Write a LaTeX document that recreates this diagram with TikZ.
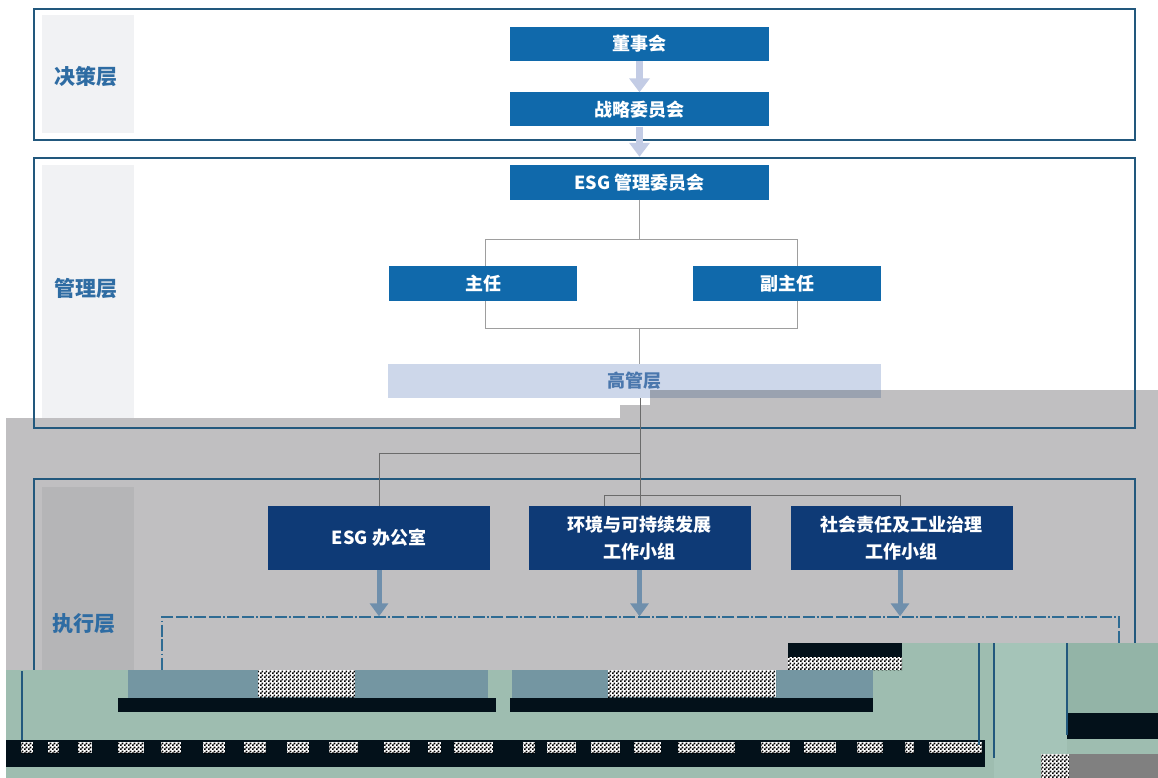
\documentclass[tikz,border=0pt]{standalone}
\usepackage{fontspec}
\setmainfont{Noto Sans CJK SC}
\usetikzlibrary{arrows.meta,patterns}
\pgfdeclarepatternformonly{finecheck}{\pgfpointorigin}{\pgfqpoint{4pt}{4pt}}{\pgfqpoint{4pt}{4pt}}{%
  \pgfpathrectangle{\pgfpointorigin}{\pgfqpoint{2pt}{2pt}}%
  \pgfpathrectangle{\pgfqpoint{2pt}{2pt}}{\pgfqpoint{2pt}{2pt}}%
  \pgfusepath{fill}}
\definecolor{boxblue}{HTML}{1069AB}
\definecolor{navybox}{HTML}{0E3A76}
\definecolor{layerline}{HTML}{22587D}
\definecolor{panelw}{HTML}{F1F2F4}
\definecolor{panelg}{HTML}{B5B5B7}
\definecolor{labelblue}{HTML}{2E6CA3}
\definecolor{lavender}{HTML}{C3CCE5}
\definecolor{steelarr}{HTML}{6F8FAC}
\definecolor{overlaygray}{HTML}{C0BFC1}
\definecolor{gkbox}{HTML}{CDD7EA}
\definecolor{gkdark}{HTML}{9AA2B0}
\definecolor{gktext}{HTML}{4A77AD}
\definecolor{tealg}{HTML}{9EBDB0}
\definecolor{tealr}{HTML}{93B4A7}
\definecolor{teall}{HTML}{A5C4B8}
\definecolor{steelbox}{HTML}{7496A2}
\definecolor{glitchblack}{HTML}{03111A}
\definecolor{dashcol}{HTML}{2E6B93}
\tikzset{
  layerbox/.style={draw=layerline, line width=1.5pt, inner sep=0pt},
  panelbox/.style={fill=#1, inner sep=0pt},
  layerlabel/.style={text=labelblue, font=\fontsize{21}{24}\selectfont\bfseries},
  bluebox/.style={fill=boxblue, text=white, font=\fontsize{18}{22}\selectfont\bfseries, inner sep=0pt, minimum height=34pt},
  navyb/.style={fill=navybox, text=white, font=\fontsize{18}{27}\selectfont\bfseries, inner sep=0pt, minimum width=222pt, minimum height=64pt, align=center},
  gkstyle/.style={fill=gkbox, text=gktext, font=\fontsize{18}{22}\selectfont\bfseries, inner sep=0pt, minimum width=493pt, minimum height=34pt},
  connw/.style={draw=black!38, line width=0.8pt},
  conng/.style={draw=black!58, line width=0.8pt},
  lavarrow/.style={draw=lavender, line width=7pt, -{Triangle[width=20pt,length=14pt]}},
  steelarrow/.style={draw=steelarr, line width=5pt, -{Triangle[width=18pt,length=13pt]}},
  dashbox/.style={draw=dashcol, line width=1.3pt, dash pattern=on 12pt off 2.5pt on 1.5pt off 2.5pt on 12pt off 2.5pt, inner sep=0pt},
  checker/.style={preaction={fill=white}, pattern=finecheck, pattern color=black}
}
\begin{document}
\begin{tikzpicture}[x=1pt,y=-1pt]
\useasboundingbox (0,0) rectangle (1158,778);
\fill[white] (0,0) rectangle (1158,778);

% label panels (white area)
\node[panelbox=panelw, minimum width=92pt, minimum height=118pt] (P1) at (88,74) {};
\node[panelbox=panelw, minimum width=92pt, minimum height=255pt] (P2) at (88,292.5) {};
\node[layerlabel] (T1) at (86,77) {决策层};
\node[layerlabel] (T2) at (86,289) {管理层};

% gray overlay
\fill[overlaygray] (6,418) -- (620,418) -- (620,405) -- (650,405) -- (650,390) -- (1158,390) -- (1158,778) -- (6,778) -- cycle;

% execution panel
\node[panelbox=panelg, minimum width=92pt, minimum height=300pt] (P3) at (88,637) {};
\node[layerlabel] (T3) at (84,624) {执行层};

% layer frames
\node[layerbox, minimum width=1101pt, minimum height=131pt] (L1) at (584.5,74.5) {};
\node[layerbox, minimum width=1101pt, minimum height=270pt] (L2) at (584.5,293) {};
\node[layerbox, minimum width=1101pt, minimum height=321pt] (L3) at (584.5,639.5) {};

% management connectors
\coordinate (mA) at (485,239);
\coordinate (mB) at (797,239);
\coordinate (mC) at (485,328);
\coordinate (mD) at (797,328);
\coordinate (mT) at (639.5,239);
\coordinate (mM) at (639.5,328);
\draw[connw] (mA) -- (mB) -- (mD) -- (mC) -- cycle;

% boxes
\node[bluebox, minimum width=259pt] (dsh) at (639.5,44) {董事会};
\node[bluebox, minimum width=259pt] (zl) at (639.5,109.5) {战略委员会};
\node[bluebox, minimum width=259pt] (esg) at (639.5,182.5) {ESG 管理委员会};
\node[bluebox, minimum width=188pt, minimum height=35pt] (zr) at (483,283.5) {主任};
\node[bluebox, minimum width=188pt, minimum height=35pt] (fzr) at (787,283.5) {副主任};
\node[gkstyle] (gk) at (634.5,381) {};
\fill[gkdark] (650,390) rectangle (881,398);
\node[text=gktext, font=\fontsize{18}{22}\selectfont\bfseries] (gkt) at (gk.center) {高管层};

\draw[connw] (esg.south) -- (mT);
\draw[connw] (mM) -- (mM |- gk.north);

% execution boxes
\node[navyb] (e1) at (379,538) {ESG 办公室};
\node[navyb] (e2) at (639.5,538) {环境与可持续发展\\工作小组};
\node[navyb] (e3) at (901.5,538) {社会责任及工业治理\\工作小组};

\coordinate (eA) at (640,453);
\coordinate (eB) at (604,495);
\coordinate (eC) at (900,495);
\draw[conng] (gk.south -| eA) -- (eA |- e2.north);
\draw[conng] (eA) -| (e1.north);
\draw[conng] (eB |- e2.north) -- (eB) -- (eC) -- (eC |- e3.north);

% arrows
\draw[lavarrow] (dsh.south) -- (zl.north);
\draw[lavarrow, shorten >=8.5pt] (zl.south) -- (esg.north);

\node[dashbox, minimum width=957pt, minimum height=143pt] (db) at (640.5,688.5) {};
\draw[steelarrow] (e1.south) -- (e1.south |- db.north);
\draw[steelarrow] (e2.south) -- (e2.south |- db.north);
\draw[steelarrow] ([xshift=-1.5pt]e3.south) -- ([xshift=-1.5pt]e3.south |- db.north);

% ---- corrupted lower band of the reference ----
\fill[tealg] (6,670) rectangle (1158,778);
\fill[tealg] (788,643) rectangle (1158,670);
\fill[teall] (994,643) rectangle (1067,778);
\fill[tealr] (1067,643) rectangle (1158,713);
\fill[glitchblack] (1067,713) rectangle (1158,739);
\fill[black!50] (1069,754) rectangle (1158,778);
\fill[checker] (1041,754) rectangle (1069,778);
\fill[glitchblack] (788,643) rectangle (902,657);
\fill[checker] (788,657) rectangle (902,670);
\fill[steelbox] (128,670) rectangle (488,698);
\fill[steelbox] (512,670) rectangle (873,698);
\fill[checker] (258,670) rectangle (355,697);
\fill[checker] (608,670) rectangle (776,697);
\fill[glitchblack] (118,698) rectangle (496,712);
\fill[glitchblack] (510,698) rectangle (873,712);
\fill[glitchblack] (6,740) rectangle (985,767);
\foreach \a/\b in {21/33,48/59,78/92,118/144,161/181,203/225,244/266,287/309,329/358,384/410,428/441,454/493,523/535,547/576,591/620,634/661,678/735,761/790,804/836,857/883,905/914,929/982}
  \fill[checker] (\a,742) rectangle (\b,753);
\draw[layerline, line width=1.5pt] (994,643) -- (994,758);
\draw[layerline, line width=1.5pt] (1067,643) -- (1067,735);
\draw[layerline, line width=1.5pt] (979,643) -- (979,745);
\draw[layerline, line width=1.5pt] (22,671) -- (22,740);
\end{tikzpicture}
\end{document}
